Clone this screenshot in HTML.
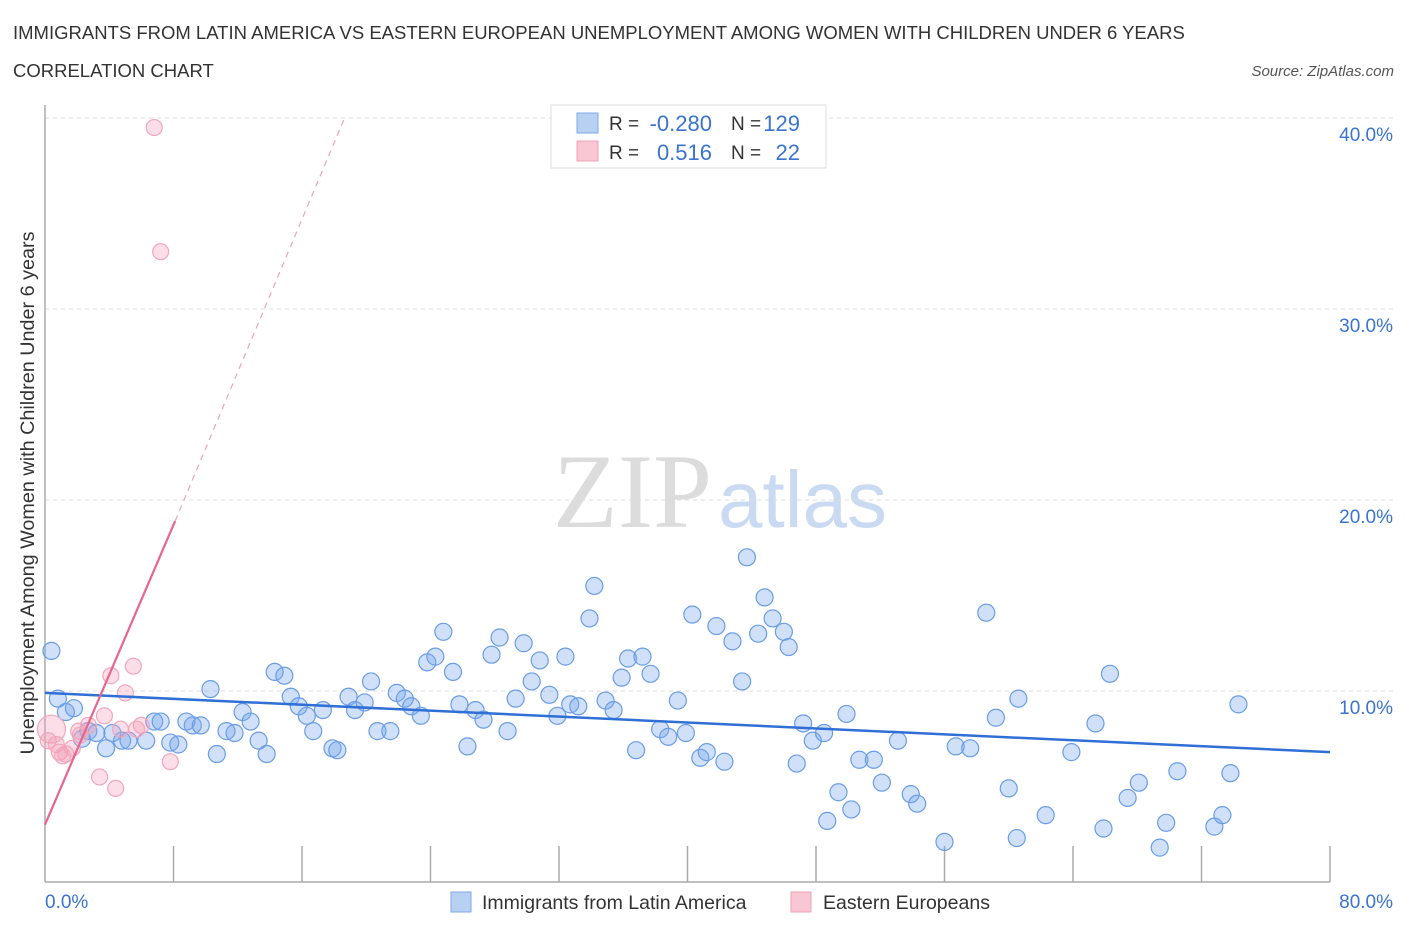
<!DOCTYPE html>
<html><head><meta charset="utf-8"><style>
body{margin:0;background:#fff;font-family:"Liberation Sans",sans-serif}
</style></head><body>
<svg width="1406" height="930" xmlns="http://www.w3.org/2000/svg" font-family="Liberation Sans, sans-serif">
<text x="13" y="39" font-size="18.5" fill="#333">IMMIGRANTS FROM LATIN AMERICA VS EASTERN EUROPEAN UNEMPLOYMENT AMONG WOMEN WITH CHILDREN UNDER 6 YEARS</text>
<text x="13" y="77" font-size="18.5" fill="#333">CORRELATION CHART</text>
<text x="1394" y="76" font-size="15" fill="#555" font-style="italic" text-anchor="end">Source: ZipAtlas.com</text>
<g>
<text x="553" y="527" font-size="106" font-family="Liberation Serif, serif" fill="#dcdcdc">ZIP</text>
<text x="718" y="527" font-size="80" fill="#c9daf2">atlas</text>
</g>
<g id="grid"></g>
<g id="axes"></g>
<text transform="translate(34,493) rotate(-90)" font-size="19.8" fill="#333" text-anchor="middle">Unemployment Among Women with Children Under 6 years</text>
<g id="pts"></g>
<g id="trend"></g>
<g>
<rect x="551" y="105" width="275" height="63" fill="#fff" stroke="#ddd"/>
<rect x="577" y="113" width="21" height="20" fill="#b8d1f3" stroke="#7fa9e6"/>
<rect x="577" y="141" width="21" height="20" fill="#f9c6d4" stroke="#eea3b8"/>
<text x="609" y="130" font-size="19" fill="#333">R = </text>
<text x="712" y="131" font-size="22" fill="#3a74d0" text-anchor="end">-0.280</text>
<text x="731" y="130" font-size="19" fill="#333">N = </text>
<text x="800" y="131" font-size="22" fill="#3a74d0" text-anchor="end">129</text>
<text x="609" y="159" font-size="19" fill="#333">R = </text>
<text x="712" y="160" font-size="22" fill="#3a74d0" text-anchor="end">0.516</text>
<text x="731" y="159" font-size="19" fill="#333">N = </text>
<text x="800" y="160" font-size="22" fill="#3a74d0" text-anchor="end">22</text>
</g>
<g>
<rect x="451" y="892" width="20" height="20" fill="#b8d1f3" stroke="#7fa9e6"/>
<text x="482" y="909" font-size="19.5" fill="#333">Immigrants from Latin America</text>
<rect x="791" y="892" width="20" height="20" fill="#f9c6d4" stroke="#eea3b8"/>
<text x="823" y="909" font-size="19.5" fill="#333">Eastern Europeans</text>
</g>
</svg>
<script>
const yTicks=[10,20,30,40];
const yTickLabels=["10.0%","20.0%","30.0%","40.0%"];
const xEndLabels=["0.0%","80.0%"];
const blueX=[0.4,0.8,1.3,1.8,2.3,2.7,3.2,3.8,4.2,4.8,5.2,6.3,6.8,7.2,7.8,8.3,8.8,9.2,9.7,10.3,10.7,11.3,11.8,12.3,12.8,13.3,13.8,14.3,14.9,15.3,15.8,16.3,16.7,17.3,17.9,18.2,18.9,19.3,19.9,20.3,20.7,21.5,21.9,22.4,22.8,23.4,23.8,24.3,24.8,25.4,25.8,26.3,26.8,27.3,27.8,28.3,28.8,29.3,29.8,30.3,30.8,31.4,31.9,32.4,32.7,33.2,33.9,34.2,34.9,35.4,35.9,36.3,36.8,37.2,37.7,38.3,38.8,39.4,39.9,40.3,40.8,41.2,41.8,42.3,42.8,43.4,43.7,44.4,44.8,45.3,46.0,46.3,46.8,47.2,47.8,48.5,48.7,49.4,49.9,50.2,50.7,51.6,52.1,53.1,53.9,54.3,56.0,56.7,57.6,58.6,59.2,60.0,60.6,60.5,62.3,63.9,65.4,65.9,66.3,67.4,68.1,69.4,69.8,70.5,72.8,73.3,73.8,74.3];
const blueY=[12.1,9.6,8.9,9.1,7.5,7.9,7.8,7.0,7.8,7.4,7.4,7.4,8.4,8.4,7.3,7.2,8.4,8.2,8.2,10.1,6.7,7.9,7.8,8.9,8.4,7.4,6.7,11.0,10.8,9.7,9.2,8.7,7.9,9.0,7.0,6.9,9.7,9.0,9.4,10.5,7.9,7.9,9.9,9.6,9.2,8.7,11.5,11.8,13.1,11.0,9.3,7.1,9.0,8.5,11.9,12.8,7.9,9.6,12.5,10.5,11.6,9.8,8.7,11.8,9.3,9.2,13.8,15.5,9.5,9.0,10.7,11.7,6.9,11.8,10.9,8.0,7.6,9.5,7.8,14.0,6.5,6.8,13.4,6.3,12.6,10.5,17.0,13.0,14.9,13.8,13.1,12.3,6.2,8.3,7.4,7.8,3.2,4.7,8.8,3.8,6.4,6.4,5.2,7.4,4.6,4.1,2.1,7.1,7.0,14.1,8.6,4.9,9.6,2.3,3.5,6.8,8.3,2.8,10.9,4.4,5.2,1.8,3.1,5.8,2.9,3.5,5.7,9.3];
const pinkX=[6.8,7.2,0.4,0.7,0.9,1.3,1.7,2.1,2.2,2.7,3.4,3.7,4.1,4.4,4.7,5.0,5.5,6.0,5.7,7.8,0.2,1.1];
const pinkY=[39.5,33.0,8.0,7.2,6.8,6.7,7.0,7.9,7.7,8.2,5.5,8.7,10.8,4.9,8.0,9.9,11.3,8.2,8.0,6.3,7.4,6.6];
const blueTrend=[[0,9.9],[80,6.8]];
const pinkTrendSolid=[[0,3.0],[8.1,18.9]];
const pinkTrendDash=[[8.1,18.9],[18.6,39.9]];
const X0=45,X1=1330,Y0=882,PER=19.1;
const xs=v=>X0+v*(X1-X0)/80;
const ys=v=>Y0-v*PER;
const NS="http://www.w3.org/2000/svg";
function mk(t,a,p){const e=document.createElementNS(NS,t);for(const k in a)e.setAttribute(k,a[k]);p.appendChild(e);return e;}
const grid=document.getElementById('grid');
yTicks.forEach((t,i)=>{
  const l=mk('line',{x1:X0,x2:1393,y1:ys(t),y2:ys(t),stroke:'#ddd','stroke-dasharray':'4,4'},grid);
  
  
  const tx=mk('text',{x:1393,y:ys(t)+23,'font-size':19,fill:'#3a74d0','text-anchor':'end'},grid);
  tx.textContent=yTickLabels[i];
  
  
});
const ax=document.getElementById('axes');
mk('line',{x1:X0,x2:X0,y1:105,y2:Y0,stroke:'#aaa','stroke-width':1.5},ax);
mk('line',{x1:X0,x2:X1,y1:Y0,y2:Y0,stroke:'#aaa','stroke-width':1.5},ax);
for(let v=8;v<=80;v+=8){mk('line',{x1:xs(v),x2:xs(v),y1:846,y2:Y0,stroke:'#aaa','stroke-width':1.5},ax);}
const xl0=mk('text',{x:45,y:908,'font-size':19,fill:'#3a74d0'},ax);xl0.textContent=xEndLabels[0];


const xl1=mk('text',{x:1393,y:908,'font-size':19,fill:'#3a74d0','text-anchor':'end'},ax);xl1.textContent=xEndLabels[1];


const pts=document.getElementById('pts');
blueX.forEach((x,i)=>{
  const c=mk('circle',{cx:xs(x),cy:ys(blueY[i]),r:8.5,fill:'rgba(120,165,235,0.35)',stroke:'#6a9de6','stroke-width':1.2},pts);
  
  
});
pinkX.forEach((x,i)=>{
  const c=mk('circle',{cx:xs(x),cy:ys(pinkY[i]),r:i==2?14:8,fill:'rgba(244,160,185,0.35)',stroke:'#f1a6bd','stroke-width':1.2},pts);
  
  
});
const tr=document.getElementById('trend');
const b=mk('line',{x1:xs(blueTrend[0][0]),y1:ys(blueTrend[0][1]),x2:xs(blueTrend[1][0]),y2:ys(blueTrend[1][1]),stroke:'#2f6fd6','stroke-width':2.5},tr);


const p1=mk('line',{x1:xs(pinkTrendSolid[0][0]),y1:ys(pinkTrendSolid[0][1]),x2:xs(pinkTrendSolid[1][0]),y2:ys(pinkTrendSolid[1][1]),stroke:'#e8658e','stroke-width':2.2},tr);


const p2=mk('line',{x1:xs(pinkTrendDash[0][0]),y1:ys(pinkTrendDash[0][1]),x2:xs(pinkTrendDash[1][0]),y2:ys(pinkTrendDash[1][1]),stroke:'#eea3b8','stroke-width':1.2,'stroke-dasharray':'6,5'},tr);


</script>
</body></html>
